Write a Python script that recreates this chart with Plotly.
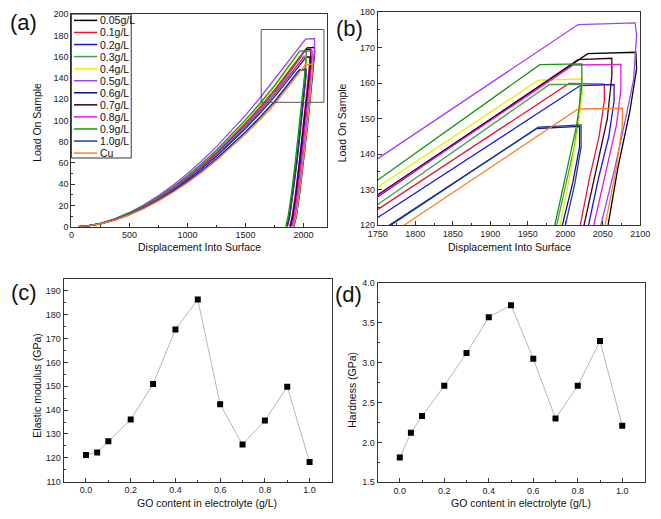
import plotly.graph_objects as go

# ---------------- data ----------------
labels = ["0.05g/L", "0.1g/L", "0.2g/L", "0.3g/L", "0.4g/L", "0.5g/L",
          "0.6g/L", "0.7g/L", "0.8g/L", "0.9g/L", "1.0g/L", "Cu"]
colors = ["#000000", "#f0143c", "#1414e6", "#4a9e4a", "#e8f000", "#a040ff",
          "#14147a", "#3a0010", "#e619e6", "#109910", "#203c9c", "#ff7f27"]

load_grid = [60, 125, 250, 375, 500, 625, 750, 875, 1000, 1125, 1250, 1375, 1500, 1625, 1750]

disp_005 = load_grid + [2030, 2094, 2095, 2086, 2070, 2057, 2029, 1999, 1965, 1938, 1917]
load_005 = [0, 0.44, 2.87, 6.91, 12.36, 19.10, 27.04, 36.12, 46.30, 57.54, 69.79, 83.05, 97.26, 112.41, 128.5,
            168.3, 168.7, 164.0, 152, 136, 120, 90, 60, 30, 10, 0]

disp_01 = load_grid + [2005, 2052, 2052, 2045, 2032, 2020, 1992, 1962, 1928, 1901, 1880]
load_01 = [0, 0.43, 2.77, 6.69, 11.97, 18.49, 26.17, 34.97, 44.82, 55.71, 67.56, 80.40, 94.16, 108.83, 124.4,
           159.9, 159.7, 155, 145, 133, 120, 90, 60, 30, 10, 0]

disp_02 = load_grid + [2020, 2065, 2065, 2058, 2044, 2031, 2003, 1973, 1939, 1912, 1891]
load_02 = [0, 0.42, 2.72, 6.57, 11.75, 18.14, 25.69, 34.32, 43.99, 54.68, 66.31, 78.91, 92.42, 106.81, 122.1,
           159.3, 159.6, 155, 145, 133, 120, 90, 60, 30, 10, 0]

disp_03 = load_grid + [1979, 2020, 2019, 2012, 2002, 1990, 1962, 1932, 1898, 1871, 1850]
load_03 = [0, 0.43, 2.81, 6.77, 12.10, 18.69, 26.47, 35.36, 45.33, 56.33, 68.32, 81.30, 95.22, 110.05, 125.8,
           159.6, 159.6, 152, 142, 132, 120, 90, 60, 30, 10, 0]

disp_04 = load_grid + [1964, 2022, 2022, 2016, 2006, 1993, 1965, 1935, 1901, 1874, 1853]
load_04 = [0, 0.45, 2.91, 7.03, 12.57, 19.42, 27.50, 36.74, 47.09, 58.53, 70.98, 84.47, 98.93, 114.34, 130.7,
           160.8, 161.2, 156, 146, 134, 120, 90, 60, 30, 10, 0]

disp_05 = load_grid + [2017, 2093, 2095, 2091, 2082, 2066, 2048, 2020, 1990, 1956, 1929, 1908]
load_05 = [0, 0.48, 3.09, 7.46, 13.34, 20.61, 29.18, 38.99, 49.97, 62.11, 75.33, 89.64, 104.98, 121.33, 138.7,
           176.5, 177.0, 173.7, 161, 151.6, 136, 120, 90, 60, 30, 10, 0]

disp_06 = load_grid + [1962, 2019, 2019, 2010, 1997, 1969, 1939, 1905, 1878, 1857]
load_06 = [0, 0.41, 2.63, 6.34, 11.33, 17.51, 24.79, 33.11, 42.44, 52.75, 63.98, 76.13, 89.16, 103.05, 117.8,
           147.2, 147.8, 142, 132, 120, 90, 60, 30, 10, 0]

disp_07 = load_grid + [2017, 2062, 2062, 2056, 2040, 2025, 1997, 1967, 1933, 1906, 1885]
load_07 = [0, 0.44, 2.85, 6.89, 12.31, 19.02, 26.93, 35.98, 46.12, 57.32, 69.52, 82.73, 96.88, 111.97, 128.0,
           166.6, 167.0, 162, 150, 134, 120, 90, 60, 30, 10, 0]

disp_08 = load_grid + [2011, 2074, 2074, 2068, 2054, 2038, 2010, 1980, 1946, 1919, 1898]
load_08 = [0, 0.44, 2.86, 6.90, 12.33, 19.05, 26.97, 36.04, 46.19, 57.41, 69.63, 82.86, 97.03, 112.15, 128.2,
           165.1, 165.3, 158, 148, 135, 120, 90, 60, 30, 10, 0]

disp_09 = load_grid + [1966, 2022, 2022, 2015, 2002, 1986, 1958, 1928, 1894, 1867, 1846]
load_09 = [0, 0.46, 2.96, 7.14, 12.77, 19.72, 27.92, 37.30, 47.81, 59.42, 72.07, 85.76, 100.44, 116.09, 132.7,
           165.2, 165.4, 159, 148, 135, 120, 90, 60, 30, 10, 0]

disp_10 = load_grid + [1964, 2021, 2021, 2013, 2001, 1973, 1943, 1909, 1882, 1861]
load_10 = [0, 0.41, 2.62, 6.32, 11.30, 17.46, 24.72, 33.03, 42.34, 52.62, 63.81, 75.94, 88.94, 102.79, 117.5,
           147.6, 148.2, 142, 132, 120, 90, 60, 30, 10, 0]

disp_cu = load_grid + [2017, 2076, 2076, 2068, 2055, 2027, 1997, 1963, 1936, 1915]
load_cu = [0, 0.40, 2.56, 6.19, 11.06, 17.09, 24.20, 32.33, 41.43, 51.50, 62.46, 74.32, 87.04, 100.60, 115.0,
           152.7, 152.9, 148, 136, 120, 90, 60, 30, 10, 0]

disp_all = [disp_005, disp_01, disp_02, disp_03, disp_04, disp_05,
            disp_06, disp_07, disp_08, disp_09, disp_10, disp_cu]
load_all = [load_005, load_01, load_02, load_03, load_04, load_05,
            load_06, load_07, load_08, load_09, load_10, load_cu]

go_content = [0.0, 0.05, 0.1, 0.2, 0.3, 0.4, 0.5, 0.6, 0.7, 0.8, 0.9, 1.0]
elastic_modulus = [121.2, 122.2, 126.9, 136.1, 150.9, 173.8, 186.4, 142.4, 125.6, 135.6, 149.8, 118.2]
hardness = [1.81, 2.12, 2.33, 2.71, 3.12, 3.57, 3.72, 3.05, 2.30, 2.71, 3.27, 2.21]

# ---------------- figure ----------------
W, H = 661, 519
FONT = "Liberation Sans, Arial, sans-serif"
fig = go.Figure()

for d, p, c, lab in zip(disp_all, load_all, colors, labels):
    fig.add_trace(go.Scatter(x=d, y=p, mode="lines", line=dict(color=c, width=1.3),
                             name=lab, showlegend=False, xaxis="x", yaxis="y"))
for d, p, c, lab in zip(disp_all, load_all, colors, labels):
    fig.add_trace(go.Scatter(x=d, y=p, mode="lines", line=dict(color=c, width=1.3),
                             name=lab, showlegend=False, xaxis="x2", yaxis="y2"))

fig.add_trace(go.Scatter(x=go_content, y=elastic_modulus, mode="lines+markers",
                         line=dict(color="#a9bac2", width=1),
                         marker=dict(symbol="square", size=6, color="black"),
                         showlegend=False, xaxis="x3", yaxis="y3"))
fig.add_trace(go.Scatter(x=go_content, y=hardness, mode="lines+markers",
                         line=dict(color="#a9bac2", width=1),
                         marker=dict(symbol="square", size=6, color="black"),
                         showlegend=False, xaxis="x4", yaxis="y4"))


def px_x(px):
    return px / W


def px_y(py):
    return 1 - py / H


def axis(domain, rng, dtick, minor, anchor, fmt=None, tickvals=None):
    a = dict(domain=domain, range=rng, anchor=anchor, showline=True, mirror=True,
             linecolor="#333333", linewidth=1, ticks="inside", ticklen=4,
             tickcolor="#333333", showgrid=False, zeroline=False,
             tickfont=dict(family=FONT, size=9, color="#222222"),
             minor=dict(ticks="inside", ticklen=2, dtick=minor, tickcolor="#333333", showgrid=False))
    if tickvals is not None:
        a["tickvals"] = tickvals
    else:
        a["dtick"] = dtick
        a["tick0"] = rng[0]
    if fmt:
        a["tickformat"] = fmt
    return a


xa = axis([px_x(63.3), px_x(326.7)], [0, 2200], 500, 250, "y")
xa["tick0"] = 0
ya = axis([px_y(226), px_y(9.3)], [0, 200], 20, 10, "x")
ya["tick0"] = 0
xb = axis([px_x(379.3), px_x(650)], [1750, 2100], 50, 25, "y2")
yb = axis([px_y(224.3), px_y(7.3)], [120, 180], 10, 5, "x2")
xc = axis([px_x(55.3), px_x(332)], [-0.1, 1.1], None, 0.1, "y3", ".1f",
          [0, 0.2, 0.4, 0.6, 0.8, 1.0])
xc["minor"]["tick0"] = 0
yc = axis([px_y(486), px_y(279.3)], [110, 195], 10, 5, "x3")
yc["tick0"] = 110
xd = axis([px_x(379), px_x(654.3)], [-0.1, 1.1], None, 0.1, "y4", ".1f",
          [0, 0.2, 0.4, 0.6, 0.8, 1.0])
xd["minor"]["tick0"] = 0
yd = axis([px_y(486.7), px_y(283.3)], [1.5, 4.0], 0.5, 0.25, "x4", ".1f")
yd["tick0"] = 1.5

shapes = []
annotations = []

# zoom box in (a)
shapes.append(dict(type="rect", xref="x", yref="y", x0=1635, x1=2175, y0=117, y1=185.5,
                   line=dict(color="#555555", width=1)))

# legend in (a)
lx0, lx1, ly0, ly1 = 63.3, 125, 9.3, 156
shapes.append(dict(type="rect", xref="paper", yref="paper", x0=px_x(lx0), x1=px_x(lx1),
                   y0=px_y(ly1), y1=px_y(ly0), line=dict(color="#333333", width=1),
                   fillcolor="white", layer="above"))
for i, (lab, c) in enumerate(zip(labels, colors)):
    yy = 15.7 + 12.3 * i
    shapes.append(dict(type="line", xref="paper", yref="paper", x0=px_x(66), x1=px_x(90),
                       y0=px_y(yy), y1=px_y(yy), line=dict(color=c, width=1.5)))
    annotations.append(dict(text=lab, xref="paper", yref="paper", x=px_x(90.5), y=px_y(yy),
                            xanchor="left", yanchor="middle", showarrow=False,
                            font=dict(family=FONT, size=10.5, color="#111111")))


def ann(text, x, y, size, angle=0):
    annotations.append(dict(text=text, xref="paper", yref="paper", x=px_x(x), y=px_y(y),
                            xanchor="center", yanchor="middle", showarrow=False, textangle=angle,
                            font=dict(family=FONT, size=size, color="#111111")))


ann("Displacement Into Surface", 195, 247, 10.5)
ann("Load On Sample", 28, 120, 10.5, -90)
ann("Displacement Into Surface", 515, 247, 10.5)
ann("Load On Sample", 342, 120, 10.5, -90)
ann("GO content in electrolyte (g/L)", 203, 508, 10.5)
ann("Elastic modulus (GPa)", 27, 388, 10.5, -90)
ann("GO content in electrolyte (g/L)", 527, 508, 10.5)
ann("Hardness (GPa)", 353, 392, 10.5, -90)

ann("(a)", 14, 18, 22)
ann("(b)", 350, 24, 22)
ann("(c)", 14, 293, 22)
ann("(d)", 349, 295, 22)

fig.update_layout(
    width=W, height=H, autosize=False,
    margin=dict(l=0, r=0, t=0, b=0),
    paper_bgcolor="white", plot_bgcolor="white",
    xaxis=xa, yaxis=ya, xaxis2=xb, yaxis2=yb,
    xaxis3=xc, yaxis3=yc, xaxis4=xd, yaxis4=yd,
    shapes=shapes, annotations=annotations,
    font=dict(family=FONT),
)

fig.write_html("out.html")
